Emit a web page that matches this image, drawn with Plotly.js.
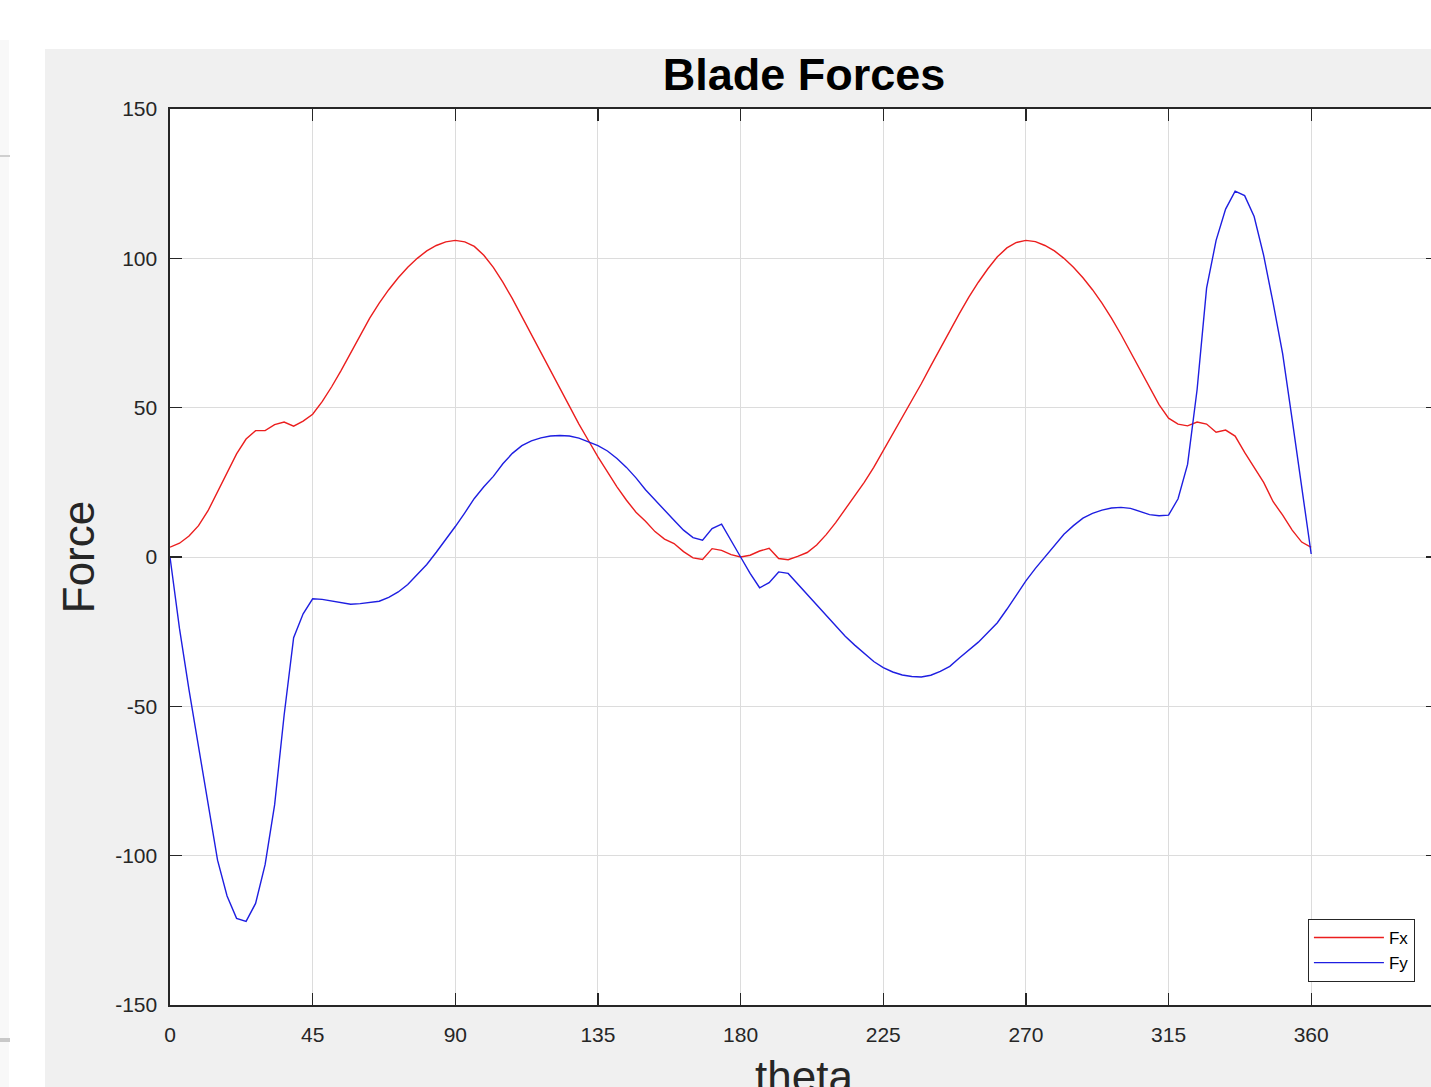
<!DOCTYPE html>
<html><head><meta charset="utf-8">
<script src="https://cdn.plot.ly/plotly-3.0.1.min.js"></script>
<style>
html,body{margin:0;padding:0;background:#fff;overflow:hidden;width:1431px;height:1087px;position:relative;}
#fig{position:absolute;left:45px;top:49px;width:1500px;height:1100px;}
.edge{position:absolute;left:0;top:40px;width:9px;height:1047px;background:#f8f8f8;}
.mark1{position:absolute;left:0;top:155px;width:10px;height:2px;background:#cfcfcf;}
.mark2{position:absolute;left:0;top:1038px;width:10px;height:4px;background:#c8c8c8;}
</style></head><body>
<div class="edge"></div><div class="mark1"></div><div class="mark2"></div>
<div id="fig"></div>
<script>
const theta = [0,3,6,9,12,15,18,21,24,27,30,33,36,39,42,45,48,51,54,57,60,63,66,69,72,75,78,81,84,87,90,93,96,99,102,105,108,111,114,117,120,123,126,129,132,135,138,141,144,147,150,153,156,159,162,165,168,171,174,177,180,183,186,189,192,195,198,201,204,207,210,213,216,219,222,225,228,231,234,237,240,243,246,249,252,255,258,261,264,267,270,273,276,279,282,285,288,291,294,297,300,303,306,309,312,315,318,321,324,327,330,333,336,339,342,345,348,351,354,357,360];

const fx = [3.3,4.6,7,10.5,15.5,22,28.5,34.5,39.5,42.3,42.3,44.3,45.2,43.8,45.5,47.8,52,57,62.5,68.5,74.5,80,85,89.5,93.5,97,100,102.5,104.3,105.5,106,105.5,104,101,97,92,86.5,80.5,74.5,68,62,56,50,44.5,39,33.5,28.5,23.5,19,15,12,8.5,6,4.5,1.8,-0.3,-0.8,2.8,2.2,0.8,0,0.6,2,2.9,-0.5,-0.9,0.2,1.5,4,7.5,11.5,16,20.5,25,30,35.5,41,46.5,52,58,64,70,76,81.5,87,92,96.5,100.5,103.5,105.3,106,105.6,104.3,102.5,100,97,93.5,89.5,85,80,74.5,68.5,63,57,51,46.5,44.5,43.9,45.2,44.5,41.8,42.5,40.5,35,30,25,18.5,14,9,5,3.2];

const fy = [0,-24,-44.5,-64,-83,-101.5,-113.5,-121,-122,-116,-103,-83,-53,-27,-19,-14,-14.2,-14.8,-15.4,-15.8,-15.6,-15.3,-14.8,-13.5,-11.7,-9.2,-6,-2.5,1.6,5.8,10.2,14.8,19.6,23.5,27,31.2,34.7,37.3,38.9,39.9,40.5,40.7,40.5,39.8,38.6,37.3,35.5,33,30,26.5,22.5,19,15.5,12.3,9,6.5,5.6,9.5,11,5.7,0,-5.5,-10.3,-8.6,-5,-5.5,-9,-12.5,-16,-19.5,-23,-26.5,-29.5,-32.3,-35,-37,-38.5,-39.5,-40,-40.2,-39.6,-38.3,-36.6,-33.8,-31.3,-28.5,-25.3,-22,-17.5,-12.8,-8,-3.8,0,4,7.6,10.5,13,14.6,15.7,16.4,16.6,16.3,15.3,14.2,13.8,14,19.5,31,56,90,106,116.5,122.5,121,114,101,85,68,46,24,1];

const seriesNames = ['Fx', 'Fy'];
const seriesColors = ['rgb(235,30,30)', 'rgb(30,30,225)'];
const xTickVals = [0,45,90,135,180,225,270,315,360];
const yTickVals = [-150,-100,-50,0,50,100,150];
const yTickText = ['-150','-100','-50','0','50','100','150'];

const font = 'Liberation Sans, Arial, Helvetica, sans-serif';
const axisColor = '#262626';

const traces = [fx, fy].map((vals, i) => ({
  type: 'scatter', mode: 'lines', x: theta, y: vals, name: seriesNames[i],
  line: {color: seriesColors[i], width: 1.4}
}));

const common = {
  ticks: 'inside', ticklen: 12, tickwidth: 1.3, tickcolor: axisColor,
  showline: true, linecolor: axisColor, linewidth: 1.6, mirror: 'ticks',
  showgrid: true, gridcolor: '#dcdcdc', gridwidth: 1, zeroline: false,
  tickfont: {family: font, size: 21, color: axisColor}
};

const layout = {
  width: 1500, height: 1100,
  margin: {l: 125, r: 107, t: 60, b: 144, pad: 0},
  paper_bgcolor: '#f0f0f0', plot_bgcolor: '#ffffff',
  font: {family: font, color: axisColor},
  title: {text: '<b>Blade Forces</b>', font: {family: font, size: 45, color: '#000'},
          x: 0.5, xref: 'paper', xanchor: 'center', y: 1 - 25/1100, yref: 'container', yanchor: 'middle'},
  xaxis: Object.assign({}, common, {
    range: [0, 400], tickmode: 'array', tickvals: xTickVals, ticklabelstandoff: 10,
    title: {text: 'theta', font: {family: font, size: 44, color: axisColor}, standoff: 16}
  }),
  yaxis: Object.assign({}, common, {
    range: [-150, 150], tickmode: 'array', tickvals: yTickVals, ticktext: yTickText, ticklabelstandoff: 7,
    title: {text: 'Force', font: {family: font, size: 44, color: axisColor}, standoff: 7}
  }),
  showlegend: true,
  legend: {x: 0.9818, xanchor: 'right', y: 0.0257, yanchor: 'bottom',
           bgcolor: '#ffffff', bordercolor: axisColor, borderwidth: 1, itemwidth: 70,
           font: {family: font, size: 17, color: '#000'}, tracegroupgap: 0}
};

Plotly.newPlot('fig', traces, layout, {staticPlot: true, displayModeBar: false});
</script>
</body></html>
